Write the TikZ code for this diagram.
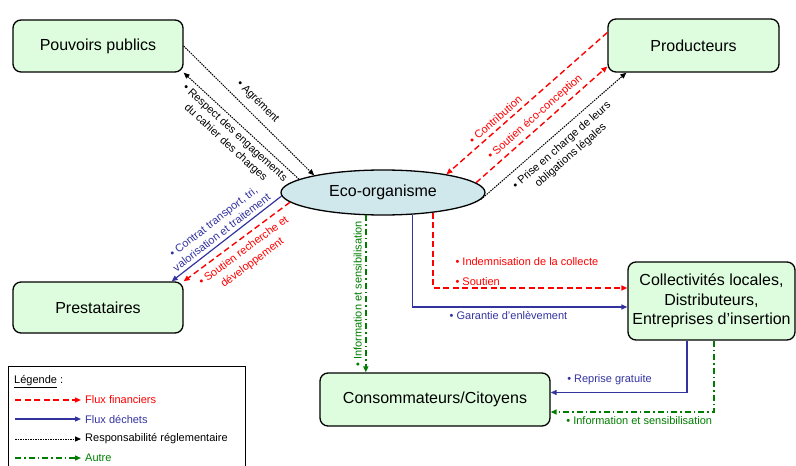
\documentclass[tikz,border=0pt]{standalone}
\usepackage{fontspec}
\setmainfont{Liberation Sans}
\usetikzlibrary{positioning,calc,shapes.geometric,arrows.meta}

\definecolor{vertboite}{RGB}{222,253,222}
\definecolor{bleuellipse}{RGB}{208,232,236}
\definecolor{rougeflux}{RGB}{255,0,0}
\definecolor{bleuflux}{RGB}{51,51,160}
\definecolor{vertflux}{RGB}{0,125,0}

\begin{document}
\begin{tikzpicture}[x=1pt,y=-1pt,
  boite/.style={draw,line width=1.3pt,rounded corners=8pt,fill=vertboite,minimum width=170pt,minimum height=52pt,inner sep=0pt,align=center,font=\fontsize{16}{19.5}\selectfont},
  etiq/.style={font=\fontsize{11}{13.5}\selectfont,inner sep=1pt,align=center},
  fin/.style={rougeflux,line width=1.4pt,dash pattern=on 6pt off 3.5pt,-{Triangle[length=6pt,width=5pt]}},
  dech/.style={bleuflux,line width=1.2pt,-{Triangle[length=6pt,width=5pt]}},
  regl/.style={black,line width=1pt,dash pattern=on 1.5pt off 1pt,-{Triangle[length=6pt,width=5pt]}},
  autre/.style={vertflux,line width=1.4pt,dash pattern=on 6pt off 3pt on 1.5pt off 3pt,-{Triangle[length=6pt,width=5pt]}}]
\useasboundingbox (0,0) rectangle (796,466);

\node[boite] (pouvoirs) at (98,46) {Pouvoirs publics};
\node[boite,minimum width=171pt,minimum height=53pt] (producteurs) at (693.5,45.5) {Producteurs};
\node[boite,minimum height=51pt] (prestataires) at (98,307.5) {Prestataires};
\node[boite,minimum width=167pt,minimum height=78pt] (collectivites) at (711.5,301) {Collectivités locales,\\Distributeurs,\\Entreprises d’insertion};
\node[boite,minimum width=230pt,minimum height=53pt] (conso) at (435,399.5) {Consommateurs/Citoyens};
\node[ellipse,draw,line width=1.3pt,fill=bleuellipse,minimum width=204pt,minimum height=45pt,inner sep=0pt,font=\fontsize{16}{19.5}\selectfont] (eco) at (383,192.5) {Eco-organisme};

% pouvoirs publics
\draw[regl] (pouvoirs.east) -- node[etiq,sloped,above=6pt] {• Agrément} (eco.166);
\draw[regl] (eco.171) -- node[etiq,sloped,below=3pt] {• Respect des engagements\\du cahier des charges} (pouvoirs.south east);

% producteurs
\draw[fin] ([yshift=13pt]producteurs.west) -- node[etiq,sloped,above=3pt,pos=0.66] {• Contribution} (eco.16);
\draw[fin] (eco.6) -- node[etiq,sloped,above=3pt] {• Soutien éco-conception} ([yshift=-21pt]producteurs.west);
\draw[regl] (eco.-4) -- node[etiq,sloped,below=6pt] {• Prise en charge de leurs\\obligations légales} ([xshift=19pt]producteurs.south west);

% prestataires
\draw[dech] (eco.182) -- node[etiq,sloped,above=2.5pt] {• Contrat transport, tri,\\valorisation et traitement} ([xshift=-12pt]prestataires.north east);
\draw[fin] (eco.186) -- node[etiq,sloped,below=5pt,font=\fontsize{11}{14.5}\selectfont] {• Soutien recherche et\\développement} (prestataires.north east);

% consommateurs et collectivites
\draw[autre] (eco.-127) -- node[etiq,rotate=90,anchor=south,inner sep=3.5pt] {• Information et sensibilisation} (eco.-127 |- conso.north);
\draw[fin] (eco.-22) |- node[etiq,pos=0.551,anchor=south west,inner sep=2pt] {• Soutien}
  node[etiq,pos=0.551,anchor=south west,inner sep=2pt,yshift=20pt] {• Indemnisation de la collecte} ([yshift=13pt]collectivites.west);
\draw[dech] (eco.-37) |- node[etiq,pos=0.583,anchor=north west,yshift=-3pt] {• Garantie d’enlèvement} ([yshift=-6pt]collectivites.west);
\draw[dech] ([xshift=-24.5pt]collectivites.south) |- node[etiq,pos=0.945,anchor=south west,yshift=6pt] {• Reprise gratuite} ([yshift=7pt]conso.east);
\draw[autre] ([xshift=2.5pt]collectivites.south) |- node[etiq,pos=0.957,anchor=north west,yshift=-3pt] {• Information et sensibilisation} ([yshift=-12.5pt]conso.east);

% legende
\draw[line width=0.8pt] (8,467) |- (245,366) -- (245,467);
\node[etiq,anchor=west] (legende) at (13,382) {\underline{Légende} :};
\foreach \y/\sty/\coul/\txt [count=\i] in {400/fin/rougeflux/Flux financiers,419/dech/bleuflux/Flux déchets,439/regl/black/Responsabilité réglementaire,458/autre/vertflux/Autre}{
  \coordinate (leg\i a) at (15,\y);
  \node[etiq,anchor=west,text=\coul] (leg\i) at (84,\y) {\txt};
  \draw[\sty] (leg\i a) -- ([xshift=-3pt]leg\i.west);
}
\end{tikzpicture}
\end{document}
